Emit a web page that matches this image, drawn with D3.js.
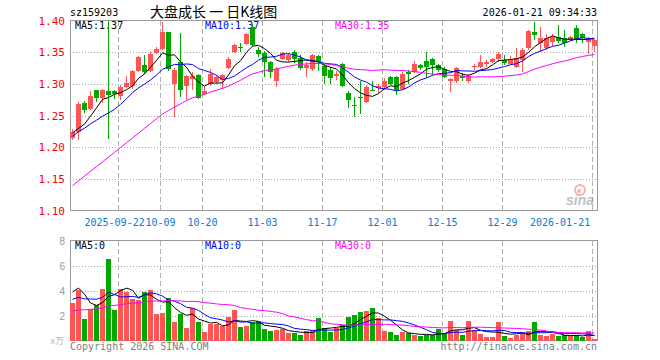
<!DOCTYPE html>
<html>
<head>
<meta charset="utf-8">
<script src="https://cdn.jsdelivr.net/npm/d3@7/dist/d3.min.js"></script>
<style>
  body { margin: 0; background: #fff; }
  svg { display: block; }
  text { font-family: "DejaVu Sans Mono", monospace; font-size: 10px; }
</style>
</head>
<body>
<svg id="kline" width="660" height="360"></svg>
<script>
// trading days shown on the chart
var dates = [
  "2025-09-10","2025-09-11","2025-09-12","2025-09-15","2025-09-16","2025-09-17","2025-09-18","2025-09-19",
  "2025-09-22","2025-09-23","2025-09-24","2025-09-25","2025-09-26","2025-09-29","2025-09-30",
  "2025-10-09","2025-10-10","2025-10-13","2025-10-14","2025-10-15","2025-10-16","2025-10-17","2025-10-20",
  "2025-10-21","2025-10-22","2025-10-23","2025-10-24","2025-10-27","2025-10-28","2025-10-29","2025-10-30","2025-10-31",
  "2025-11-03","2025-11-04","2025-11-05","2025-11-06","2025-11-07","2025-11-10","2025-11-11","2025-11-12","2025-11-13","2025-11-14",
  "2025-11-17","2025-11-18","2025-11-19","2025-11-20","2025-11-21","2025-11-24","2025-11-25","2025-11-26","2025-11-27","2025-11-28",
  "2025-12-01","2025-12-02","2025-12-03","2025-12-04","2025-12-05","2025-12-08","2025-12-09","2025-12-10","2025-12-11","2025-12-12",
  "2025-12-15","2025-12-16","2025-12-17","2025-12-18","2025-12-19","2025-12-22","2025-12-23","2025-12-24","2025-12-25","2025-12-26",
  "2025-12-29","2025-12-30","2025-12-31","2026-01-05","2026-01-06","2026-01-07","2026-01-08","2026-01-09",
  "2026-01-12","2026-01-13","2026-01-14","2026-01-15","2026-01-16","2026-01-19","2026-01-20","2026-01-21"
];
var open = [
  1.214,1.224,1.270,1.260,1.290,1.278,1.289,1.288,1.281,1.295,1.296,1.321,1.329,1.320,1.349,1.355,1.382,1.300,1.335,1.297,
  1.307,1.314,1.284,1.300,1.303,1.306,1.325,1.351,1.358,1.363,1.389,1.353,1.349,1.335,1.305,1.339,1.338,1.351,1.341,1.325,
  1.323,1.344,1.328,1.322,1.313,1.331,1.285,1.267,1.279,1.272,1.291,1.293,1.295,1.311,1.311,1.292,1.318,1.319,1.330,1.336,
  1.339,1.329,1.324,1.304,1.304,1.313,1.304,1.326,1.327,1.331,1.335,1.339,1.338,1.331,1.327,1.338,1.356,1.382,1.364,1.356,
  1.366,1.374,1.373,1.370,1.388,1.379,1.366,1.359
];
var high = [
  1.228,1.272,1.273,1.289,1.291,1.292,1.400,1.290,1.298,1.312,1.322,1.344,1.346,1.350,1.358,1.398,1.382,1.325,1.380,1.314,
  1.318,1.316,1.297,1.323,1.314,1.316,1.342,1.363,1.364,1.381,1.394,1.358,1.352,1.336,1.326,1.350,1.349,1.353,1.345,1.334,
  1.347,1.346,1.332,1.326,1.320,1.333,1.288,1.280,1.305,1.298,1.305,1.300,1.310,1.313,1.313,1.318,1.322,1.336,1.332,1.350,
  1.341,1.332,1.327,1.310,1.327,1.317,1.316,1.332,1.346,1.338,1.341,1.351,1.346,1.344,1.356,1.356,1.385,1.397,1.389,1.378,
  1.378,1.393,1.385,1.376,1.393,1.380,1.374,1.370
];
var low = [
  1.212,1.211,1.254,1.259,1.272,1.270,1.213,1.276,1.275,1.293,1.292,1.318,1.316,1.318,1.347,1.353,1.321,1.248,1.280,1.275,
  1.290,1.276,1.283,1.297,1.300,1.292,1.323,1.348,1.350,1.361,1.360,1.343,1.311,1.309,1.295,1.337,1.335,1.333,1.322,1.311,
  1.320,1.320,1.300,1.300,1.306,1.295,1.262,1.247,1.253,1.270,1.288,1.285,1.290,1.298,1.282,1.290,1.300,1.317,1.322,1.309,
  1.314,1.318,1.309,1.287,1.302,1.304,1.302,1.322,1.325,1.326,1.333,1.335,1.330,1.329,1.325,1.319,1.354,1.369,1.351,1.354,
  1.360,1.365,1.358,1.368,1.364,1.364,1.347,1.350
];
var close = [
  1.224,1.268,1.259,1.281,1.278,1.291,1.283,1.284,1.295,1.301,1.321,1.342,1.319,1.347,1.355,1.382,1.323,1.322,1.291,1.312,
  1.312,1.278,1.289,1.316,1.311,1.314,1.340,1.361,1.356,1.378,1.362,1.347,1.335,1.318,1.324,1.349,1.346,1.340,1.325,1.329,
  1.345,1.335,1.312,1.310,1.315,1.297,1.275,1.265,1.277,1.295,1.289,1.297,1.304,1.299,1.290,1.316,1.316,1.331,1.325,1.327,
  1.330,1.322,1.311,1.308,1.325,1.310,1.313,1.328,1.334,1.335,1.339,1.347,1.333,1.338,1.341,1.353,1.383,1.377,1.372,1.373,
  1.374,1.367,1.365,1.374,1.371,1.372,1.371,1.369
];
// volume, unit 万
var volume = [
  3.00,4.01,1.70,2.50,2.82,4.09,6.49,2.42,4.09,3.85,3.30,3.22,3.85,4.01,2.10,2.18,3.38,1.46,2.10,0.98,
  2.58,1.46,0.66,1.30,1.30,1.14,1.86,2.42,1.06,1.14,1.46,1.54,0.90,0.74,0.82,0.90,0.58,0.58,0.43,0.74,
  0.82,1.78,0.98,0.66,1.01,1.22,1.86,2.02,2.26,2.34,2.58,1.78,0.74,0.66,0.43,0.66,0.58,0.43,0.35,0.43,
  0.43,0.90,0.58,1.54,0.82,0.43,1.54,0.82,0.50,0.27,0.27,1.46,0.35,0.19,0.43,0.58,0.74,1.46,0.43,0.35,
  0.50,0.35,0.43,0.35,0.43,0.27,0.74,0.11
];
// the 29 sessions before the window, only needed by the moving averages
var priorClose = [
  1.044,1.034,1.056,1.053,1.066,1.058,1.059,1.070,1.073,1.093,1.114,1.091,1.119,1.127,1.154,
  1.164,1.163,1.132,1.153,1.186,1.195,1.205,1.212,1.220,1.228,1.232,1.225,1.218,1.213
];
var priorVolume = [
  1.4,1.5,1.3,1.6,1.7,1.5,1.8,1.9,1.6,2.0,2.1,1.8,2.2,2.0,2.3,
  2.1,2.4,2.2,2.5,1.9,2.5,2.9,2.6,3.0,2.6,2.4,4.2,6.0,3.8
];
var tickDates = ["2025-09-22","2025-10-09","2025-10-20","2025-11-03","2025-11-17","2025-12-01","2025-12-15","2025-12-29","2026-01-21"];
var priceTicks = [1.10,1.15,1.20,1.25,1.30,1.35,1.40];
var volumeTicks = [2,4,6,8];
var maPeriods = [5,10,30];
var maColors = ["#000000","#0000ff","#ff00ff"];
var volumeLegend = ["0","0","0"];

var left = 70, right = 597;
var priceTop = 20.5, priceBottom = 210.5, volTop = 240.5, volBottom = 340.5;
var red = "#ff5555", green = "#00a800";
var charW = 6; // width of one mono glyph at 10px

function movingAverage(values, prior, n) {
  var all = prior.concat(values), off = prior.length;
  return values.map(function(v, i) {
    return d3.mean(all.slice(off + i - n + 1, off + i + 1));
  });
}

var svg = d3.select("#kline");
var x = d3.scaleBand().domain(dates).range([left, right]).paddingInner(1 / 6).paddingOuter(0).align(0);
var bw = x.bandwidth();
var y = d3.scaleLinear().domain([1.10, 1.40]).range([priceBottom, priceTop]);
var yv = d3.scaleLinear().domain([0, 8]).range([volBottom, volTop]);
var cx = function(i) { return x(dates[i]) + Math.floor(bw / 2) + 0.5; };
var up = function(i) { return close[i] >= open[i]; };

// grids
var grid = svg.append("g").attr("shape-rendering", "crispEdges");
grid.selectAll(".hp").data(priceTicks.slice(1, -1)).enter().append("line")
  .attr("x1", left).attr("x2", right + 0.5)
  .attr("y1", function(d) { return Math.round(y(d)) + 0.5; }).attr("y2", function(d) { return Math.round(y(d)) + 0.5; })
  .attr("stroke", "#a8a8a8").attr("stroke-dasharray", "1,2");
grid.selectAll(".hv").data(volumeTicks.slice(0, -1)).enter().append("line")
  .attr("x1", left).attr("x2", right + 0.5)
  .attr("y1", function(d) { return Math.round(yv(d)) + 0.5; }).attr("y2", function(d) { return Math.round(yv(d)) + 0.5; })
  .attr("stroke", "#a8a8a8").attr("stroke-dasharray", "1,2");
[[priceTop, priceBottom], [volTop, volBottom]].forEach(function(r) {
  grid.selectAll(null).data(tickDates).enter().append("line")
    .attr("x1", function(d) { return x(d) + 0.5; }).attr("x2", function(d) { return x(d) + 0.5; })
    .attr("y1", r[0]).attr("y2", r[1])
    .attr("stroke", "#b0b0b0").attr("stroke-dasharray", "5,3");
});

// frames
[[priceTop, priceBottom], [volTop, volBottom]].forEach(function(r) {
  svg.append("rect").attr("x", left + 0.5).attr("y", r[0]).attr("width", right - left)
    .attr("height", r[1] - r[0]).attr("fill", "none").attr("stroke", "#999")
    .attr("shape-rendering", "crispEdges");
});

// axis labels
svg.selectAll(".pl").data(priceTicks).enter().append("text")
  .attr("x", 65).attr("y", function(d) { return y(d) + 4; })
  .attr("text-anchor", "end").attr("fill", "#ff0000").style("font-size", "11px")
  .text(function(d) { return d.toFixed(2); });
svg.selectAll(".vl").data(volumeTicks).enter().append("text")
  .attr("x", 65).attr("y", function(d) { return yv(d) + 4; })
  .attr("text-anchor", "end").attr("fill", "#999")
  .style("font-family", "'Liberation Sans', Arial, sans-serif").style("font-size", "10px")
  .text(function(d) { return d; });
svg.append("text").attr("x", 64).attr("y", 344).attr("text-anchor", "end").attr("fill", "#b8b8b8")
  .style("font-family", "'Noto Sans CJK SC', sans-serif").style("font-size", "9px").text("x万");

// date labels: full date on the first one and when the year changes,
// last one kept inside the frame, a label pushed left when it runs into the next
var prevYear = null;
var xLabels = tickDates.map(function(d, i) {
  var yr = d.slice(0, 4);
  var label = (i === 0 || yr !== prevYear) ? d : d.slice(5);
  prevYear = yr;
  var w = label.length * charW;
  var start = x(d) + 0.5 - w / 2;
  if (start + w > right) start = x(d) - 2 - w;
  return { label: label, start: start, w: w };
});
for (var k = xLabels.length - 2; k >= 0; k--) {
  var over = xLabels[k].start + xLabels[k].w - (xLabels[k + 1].start - 1);
  if (over > 0) xLabels[k].start -= over;
}
svg.selectAll(".xl").data(xLabels).enter().append("text")
  .attr("x", function(d) { return d.start; }).attr("y", 226).attr("fill", "#0a78d2")
  .text(function(d) { return d.label; });

// header
svg.append("text").attr("x", left).attr("y", 16).attr("fill", "#000").text("sz159203");
svg.append("text").attr("x", 150).attr("y", 17).attr("fill", "#000")
  .style("font-family", "'Noto Sans CJK SC', sans-serif").style("font-size", "14px")
  .style("white-space", "pre")
  .text("大盘成长 一 日K线图");
svg.append("text").attr("x", right).attr("y", 16).attr("text-anchor", "end").attr("fill", "#000")
  .text("2026-01-21 09:34:33");

// moving averages
var priceMA = maPeriods.map(function(n) { return movingAverage(close, priorClose, n); });
var volMA = maPeriods.map(function(n) { return movingAverage(volume, priorVolume, n); });
var legendX = [75, 205, 335];
maPeriods.forEach(function(n, k) {
  svg.append("text").attr("x", legendX[k]).attr("y", 29).attr("fill", maColors[k])
    .text("MA" + n + ":" + priceMA[k][dates.length - 1].toFixed(2));
  svg.append("text").attr("x", legendX[k]).attr("y", 249).attr("fill", maColors[k])
    .text("MA" + n + ":" + volumeLegend[k]);
});

// sina watermark
var logo = svg.append("g").attr("opacity", 0.6);
logo.append("circle").attr("cx", 580).attr("cy", 190).attr("r", 5).attr("fill", "none")
  .attr("stroke", "#f08080").attr("stroke-width", 2);
logo.append("circle").attr("cx", 579).attr("cy", 191).attr("r", 2).attr("fill", "#f08080");
logo.append("text").attr("x", 566).attr("y", 205).attr("fill", "#999")
  .style("font-family", "'Liberation Sans', Arial, sans-serif").style("font-size", "14px")
  .style("font-weight", "bold").style("font-style", "italic").text("sina");

// candles
var idx = d3.range(dates.length);
var candles = svg.append("g").attr("shape-rendering", "crispEdges");
candles.selectAll(".wick").data(idx).enter().append("line")
  .attr("x1", cx).attr("x2", cx)
  .attr("y1", function(i) { return y(high[i]); }).attr("y2", function(i) { return y(low[i]); })
  .attr("stroke", function(i) { return up(i) ? red : green; });
candles.selectAll(".body").data(idx).enter().append("rect")
  .attr("x", function(i) { return x(dates[i]); }).attr("width", bw)
  .attr("y", function(i) { return y(Math.max(open[i], close[i])); })
  .attr("height", function(i) { return Math.max(1, Math.abs(y(open[i]) - y(close[i]))); })
  .attr("fill", function(i) { return up(i) ? red : green; });

// volume bars
svg.append("g").attr("shape-rendering", "crispEdges")
  .selectAll("rect").data(idx).enter().append("rect")
  .attr("x", function(i) { return x(dates[i]); }).attr("width", bw)
  .attr("y", function(i) { return yv(volume[i]); })
  .attr("height", function(i) { return yv(0) - yv(volume[i]); })
  .attr("fill", function(i) { return up(i) ? red : green; });

// MA lines
maPeriods.forEach(function(n, k) {
  svg.append("path").datum(idx)
    .attr("d", d3.line().x(cx).y(function(i) { return y(priceMA[k][i]); }))
    .attr("fill", "none").attr("stroke", maColors[k]).attr("stroke-width", 1);
  svg.append("path").datum(idx)
    .attr("d", d3.line().x(cx).y(function(i) { return yv(volMA[k][i]); }))
    .attr("fill", "none").attr("stroke", maColors[k]).attr("stroke-width", 1);
});

// footer
svg.append("text").attr("x", left).attr("y", 350).attr("fill", "#808080").text("Copyright 2026 SINA.COM");
svg.append("text").attr("x", right).attr("y", 350).attr("text-anchor", "end").attr("fill", "#808080")
  .text("http://finance.sina.com.cn");
</script>
</body>
</html>
